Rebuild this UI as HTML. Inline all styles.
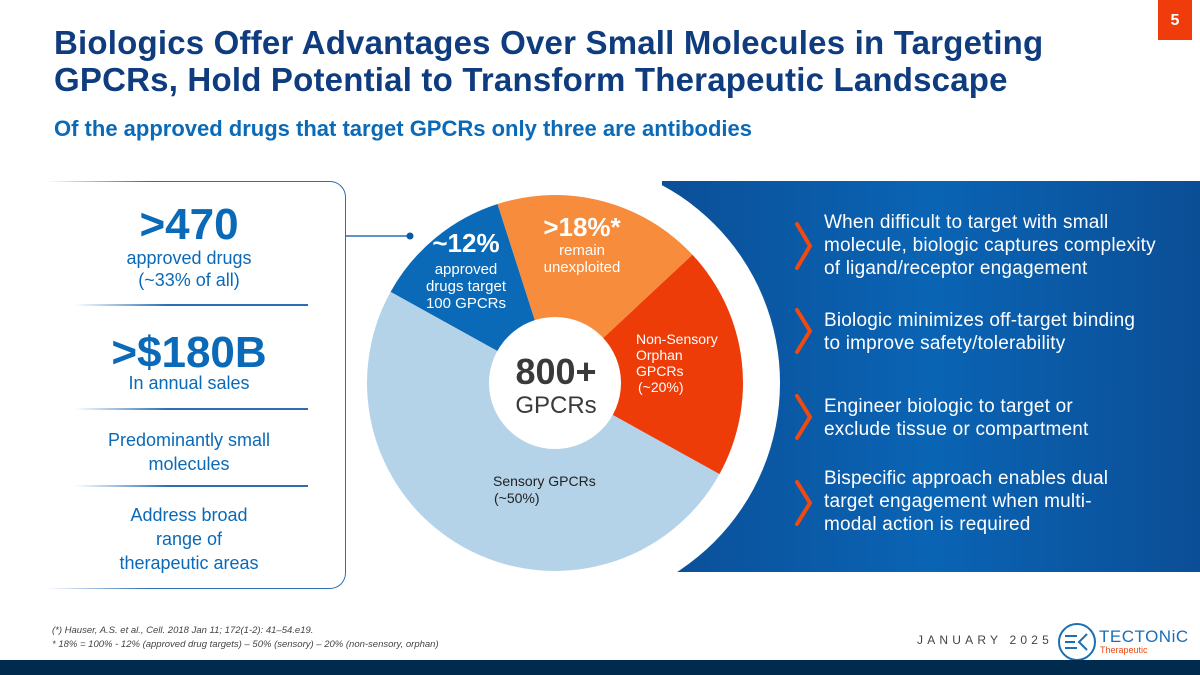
<!DOCTYPE html>
<html><head><meta charset="utf-8"><style>
body{margin:0;width:1200px;height:675px;overflow:hidden;background:#fff;font-family:"Liberation Sans",sans-serif;position:relative}
.a{position:absolute}
.t{left:54px;color:#0e3c7e;font-weight:bold;font-size:33px;line-height:37px;letter-spacing:0.2px}
.lt{color:#0a6ab8;text-align:center;width:250px;left:64px}
.rt{color:#fff;font-size:19px;line-height:23px;left:824px;letter-spacing:0.2px}
.sep{height:2px;left:75px;width:233px;background:linear-gradient(90deg,rgba(10,90,168,0),#2a6eb3 40%)}
</style></head><body>
<div class="a" style="left:1158px;top:0;width:34px;height:40px;background:#f03c0a;color:#fff;font-weight:bold;font-size:16px;text-align:center;line-height:42px">5</div>
<div class="a t" style="top:24px">Biologics Offer Advantages Over Small Molecules in Targeting<br>GPCRs, Hold Potential to Transform Therapeutic Landscape</div>
<div class="a" style="left:54px;top:116px;color:#0a6ab8;font-weight:bold;font-size:22px">Of the approved drugs that target GPCRs only three are antibodies</div>

<div class="a" style="left:20px;top:181px;width:325px;height:406px;border:1.5px solid #2a6eb3;border-left:none;border-radius:0 16px 16px 0;border-top-color:#2a6eb3"></div>
<div class="a" style="left:0;top:178px;width:150px;height:412px;background:linear-gradient(90deg,#fff 30%,rgba(255,255,255,0))"></div>
<div class="a lt" style="top:201px;font-size:44px;font-weight:bold;line-height:48px">&gt;470</div>
<div class="a lt" style="top:247px;font-size:18px;line-height:22px">approved drugs<br>(~33% of all)</div>
<div class="a sep" style="top:304px"></div>
<div class="a lt" style="top:329px;font-size:44px;font-weight:bold;line-height:48px">&gt;$180B</div>
<div class="a lt" style="top:373px;font-size:18px">In annual sales</div>
<div class="a sep" style="top:408px"></div>
<div class="a lt" style="top:428px;font-size:18px;line-height:24px">Predominantly small<br>molecules</div>
<div class="a sep" style="top:485px"></div>
<div class="a lt" style="top:503px;font-size:18px;line-height:24px">Address broad<br>range of<br>therapeutic areas</div>

<svg class="a" style="left:0;top:0" width="1200" height="675">
<defs><linearGradient id="bg" x1="0" x2="1"><stop offset="0" stop-color="#0b4f98"/><stop offset="0.5" stop-color="#0a64b4"/><stop offset="1" stop-color="#0b4e96"/></linearGradient>
<mask id="m"><rect width="1200" height="675" fill="#fff"/><circle cx="555" cy="383" r="225" fill="#000"/></mask></defs>
<rect x="662" y="181" width="538" height="391" fill="url(#bg)" mask="url(#m)"/>
<g id="slices"></g>
<circle cx="555" cy="383" r="66" fill="#fff"/>
<line x1="346" y1="236" x2="410" y2="236" stroke="#2a6eb3" stroke-width="1.5"/>
<circle cx="410" cy="236" r="3.5" fill="#0a5aa8"/>
<g font-family="Liberation Sans,sans-serif" fill="#fff" text-anchor="middle">
<text x="466" y="252" font-size="26" font-weight="bold">~12%</text>
<text x="466" y="274" font-size="15">approved</text>
<text x="466" y="291" font-size="15">drugs target</text>
<text x="466" y="308" font-size="15">100 GPCRs</text>
<text x="582" y="236" font-size="26" font-weight="bold">&gt;18%*</text>
<text x="582" y="255" font-size="15">remain</text>
<text x="582" y="272" font-size="15">unexploited</text>
</g>
<g font-family="Liberation Sans,sans-serif" fill="#fff" font-size="14">
<text x="636" y="344">Non-Sensory</text><text x="636" y="360">Orphan</text><text x="636" y="376">GPCRs</text><text x="638" y="392">(~20%)</text>
</g>
<g font-family="Liberation Sans,sans-serif" fill="#222" font-size="14">
<text x="493" y="486">Sensory GPCRs</text><text x="494" y="503">(~50%)</text>
</g>
<text x="556" y="384" text-anchor="middle" font-family="Liberation Sans,sans-serif" font-weight="bold" font-size="36" fill="#3a3a3a">800+</text>
<text x="556" y="413" text-anchor="middle" font-family="Liberation Sans,sans-serif" font-size="24" fill="#3a3a3a">GPCRs</text>
<g fill="none" stroke="#f04a10" stroke-width="4" stroke-linecap="round">
<path d="M797 224 L810 246 L797 268"/><path d="M797 310 L810 331 L797 352"/><path d="M797 396 L810 417 L797 438"/><path d="M797 482 L810 503 L797 524"/>
</g>
</svg>

<div class="a rt" style="top:211px">When difficult to target with small<br>molecule, biologic captures complexity<br>of ligand/receptor engagement</div>
<div class="a rt" style="top:309px">Biologic minimizes off-target binding<br>to improve safety/tolerability</div>
<div class="a rt" style="top:395px">Engineer biologic to target or<br>exclude tissue or compartment</div>
<div class="a rt" style="top:467px">Bispecific approach enables dual<br>target engagement when multi-<br>modal action is required</div>

<div class="a" style="left:52px;top:624px;font-size:9.5px;line-height:14px;color:#444;font-style:italic">(*) Hauser, A.S. et al., Cell. 2018 Jan 11; 172(1-2): 41–54.e19.<br>* 18% = 100% - 12% (approved drug targets) – 50% (sensory) – 20% (non-sensory, orphan)</div>
<div class="a" style="left:917px;top:633px;font-size:12px;letter-spacing:4.2px;color:#444;white-space:nowrap">JANUARY 2025</div>
<svg class="a" style="left:1057px;top:622px" width="40" height="40"><circle cx="20" cy="20" r="18" fill="none" stroke="#1a6fb5" stroke-width="2"/><path d="M8 14h12M8 20h10M8 26h12M30 12l-8 8 8 8" stroke="#1a6fb5" stroke-width="2" fill="none"/></svg>
<div class="a" style="left:1099px;top:627px;font-size:17px;color:#1a6fb5;letter-spacing:0.5px;white-space:nowrap">TECTONiC</div>
<div class="a" style="left:1100px;top:645px;font-size:9px;color:#f04a10">Therapeutic</div>
<div class="a" style="left:0;top:660px;width:1200px;height:15px;background:#002a4e"></div>

<script>
const categories=['approved-targets','unexploited','non-sensory-orphan','sensory'];
const shares=[12,18,20,50];
const colors=['#0a6ab8','#f78c3c','#ee3c08','#b4d3e8'];
const startDeg=-61;
const cx=555,cy=383,R=188;
const g=document.getElementById('slices');
const total=shares.reduce((a,b)=>a+b,0);
let a=startDeg;
function pt(d){const r=d*Math.PI/180;return [cx+R*Math.sin(r),cy-R*Math.cos(r)];}
shares.forEach((v,i)=>{
  const s=a,e=a+v/total*360;a=e;
  const p1=pt(s),p2=pt(e);
  const p=document.createElementNS('http://www.w3.org/2000/svg','path');
  p.setAttribute('d',`M${cx},${cy}L${p1[0]},${p1[1]}A${R},${R} 0 ${e-s>180?1:0} 1 ${p2[0]},${p2[1]}Z`);
  p.setAttribute('fill',colors[i]);
  
  
  g.appendChild(p);
});
</script>
</body></html>
